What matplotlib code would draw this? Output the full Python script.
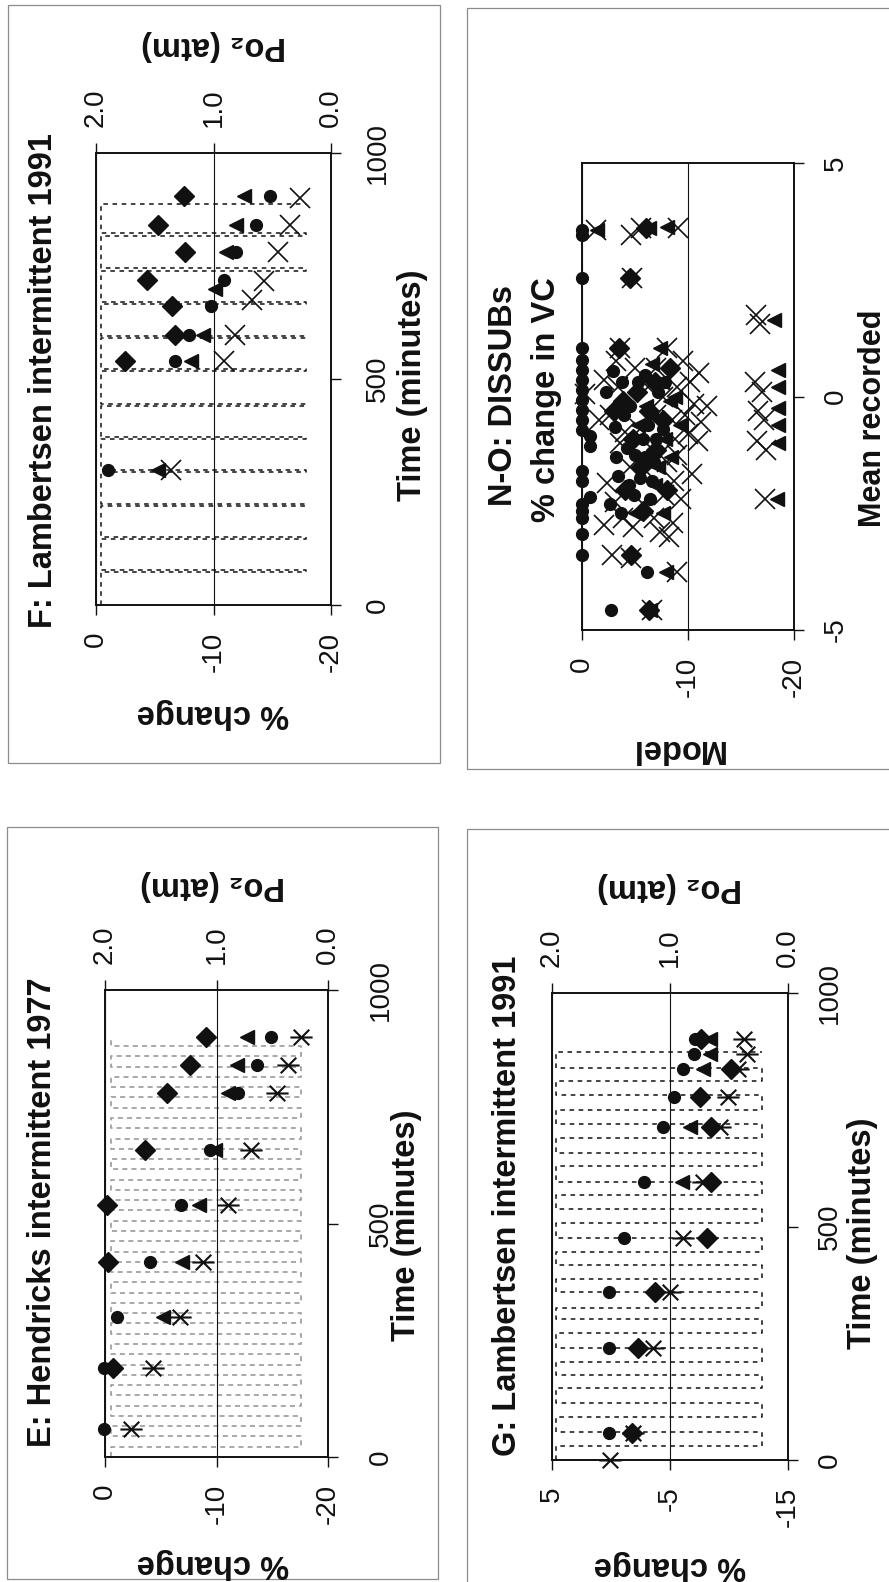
import matplotlib
matplotlib.use('Agg')
import matplotlib.pyplot as plt
from matplotlib.patches import Rectangle
from matplotlib.path import Path
from matplotlib.ticker import FormatStrFormatter

plt.rcParams['font.family'] = ['Liberation Sans', 'DejaVu Sans']
plt.rcParams['axes.unicode_minus'] = False

W, H = 889, 1582

# ---------------- data (x = % change, y = time in minutes) ----------------
# E: Hendricks intermittent 1977
e_diamond_t = [190, 417, 540, 658, 779, 839, 900]
e_diamond = [-0.75, -0.3, -0.15, -3.6, -5.6, -7.6, -9.1]
e_circle_t = [59, 190, 300, 417, 540, 658, 779, 839, 900]
e_circle = [0.1, 0.1, -1.1, -4.0, -6.8, -9.4, -11.9, -13.6, -14.9]
e_tri_t = [300, 417, 540, 658, 779, 839, 900]
e_tri = [-5.2, -6.9, -8.4, -9.9, -11.0, -11.8, -12.7]
e_star_t = [59, 190, 300, 417, 540, 658, 779, 839, 900]
e_star = [-2.3, -4.3, -6.7, -8.8, -11.0, -13.1, -15.4, -16.4, -17.6]
e_po2_switch = [22, 44, 66, 88, 110, 132, 154, 176, 198, 220, 242, 264, 286, 308,
                330, 352, 374, 396, 418, 440, 462, 484, 506, 528, 550, 572, 594,
                616, 638, 660, 682, 704, 726, 748, 770, 792, 814, 836, 858, 880]
e_po2_high, e_po2_low, e_po2_end = 1.95, 0.24, 895

# F: Lambertsen intermittent 1991
f_diamond_t = [904, 841, 782, 720, 661, 598, 540]
f_diamond = [-7.5, -5.3, -7.6, -4.3, -6.5, -6.7, -2.5]
f_circle_t = [904, 841, 782, 720, 661, 598, 540, 299]
f_circle = [-14.8, -13.6, -11.9, -10.9, -9.8, -7.9, -6.7, -1.0]
f_tri_t = [904, 841, 782, 700, 598, 540, 299]
f_tri = [-12.6, -11.9, -11.1, -10.1, -9.1, -8.1, -5.3]
f_x_t = [900, 841, 782, 716, 675, 598, 540, 299]
f_x = [-17.4, -16.5, -15.5, -14.3, -13.3, -11.8, -10.9, -6.4]
f_po2_breaks = [72, 145, 218, 294, 367, 440, 517, 590, 666, 740, 817]
f_break_len = 5
f_po2_high, f_po2_low, f_po2_end = 1.96, 0.21, 887

# G: Lambertsen intermittent 1991
g_circle_t = [57, 239, 359, 476, 596, 714, 778, 837, 869, 902]
g_circle = [0.2, 0.2, 0.2, -1.1, -2.8, -4.4, -5.3, -6.1, -7.0, -7.1]
g_tri_t = [596, 714, 837, 869, 902]
g_tri = [-6.0, -6.7, -7.8, -8.4, -8.4]
g_diamond_t = [57, 239, 359, 476, 596, 714, 778, 837, 902]
g_diamond = [-1.8, -2.3, -3.7, -8.1, -8.5, -8.5, -7.5, -10.2, -7.6]
g_star_t = [0, 57, 239, 359, 476, 596, 714, 778, 837, 869, 902]
g_star = [0.1, -1.9, -3.6, -5.0, -6.1, -7.8, -9.2, -9.9, -10.8, -11.5, -11.3]
g_po2_switch = [31, 60, 93, 122, 155, 181, 210, 239, 272, 301, 326, 359, 388, 417,
                446, 476, 508, 538, 567, 596, 629, 658, 690, 720, 749, 781, 811, 840, 874]
g_po2_high, g_po2_low, g_po2_end = 1.97, 0.22, 874

# N-O: DISSUBs, model % change vs mean recorded
no_circle_model = [0, 0, 0, 0, 0, 0, 0, 0, 0, 0, 0, 0, -0.8, -0.8, 0, 0, -0.8, 0, 0, 0,
                   0, 0, -2.7, -6.1, -2.9, -3.8, -4.5, -3.1, -4.2, -5.0, -5.8, -6.6,
                   -7.2, -6.8, -3.4, -5.5, -4.9, -2.6, -3.7, -6.4, -5.9, -7.6,
                   -5.3, -6.2, -4.0, -7.0, -5.9, -4.4, -6.6, -3.2, -7.8, -2.3]
no_circle_mean = [3.57, 3.45, 2.54, 1.04, 0.78, 0.57, 0.36, 0.14, -0.07, -0.28, -0.5,
                  -0.71, -0.85, -1.05, -1.6, -1.8, -2.15, -2.3, -2.45, -2.6, -2.95,
                  -3.4, -4.57, -3.75, 0.55, 0.3, -0.2, -0.65, -1.1, -1.25, -0.9, -0.35,
                  0.1, -1.4, -1.7, -1.75, -2.1, -2.3, -2.5, -2.2, 0.45, -0.7,
                  0.3, -0.6, -0.4, -0.9, -1.3, -1.9, -1.8, -1.3, 0.3, 0.1]
no_tri_model = [-1.4, -6.3, -8.0, -7.4, -18.1, -18.5, -18.5, -18.5, -18.5, -18.5, -18.4,
                -7.9, -6.4, -7.5, -8.3, -7.8, -6.9, -7.6, -5.3, -6.6,
                -8.8, -9.2, -6.0, -8.4, -5.0, -7.2]
no_tri_mean = [3.57, 3.6, 3.63, 1.04, 1.64, 0.57, 0.2, -0.25, -0.6, -1.0, -2.2,
               -3.75, -4.57, 0.3, -0.1, -0.9, -1.9, -2.5, -0.6, 0.7,
               0.0, -0.6, -0.2, -1.3, -2.5, -1.5]
no_diamond_model = [-6.0, -4.5, -3.5, -4.6, -6.3, -5.2, -6.3, -7.0, -4.1, -5.8, -8.3, -3.0,
                    -7.6, -4.8, -6.9, -5.6, -8.0, -3.9]
no_diamond_mean = [3.6, 2.54, 1.04, -3.4, -4.57, 0.1, -0.3, -1.15, -2.0, -2.45, 0.6, -0.3,
                   -0.5, -0.9, 0.3, -1.5, -2.0, -0.1]
no_x_model = [-1.3, -4.6, -5.6, -9.1, -4.7, -16.4, -16.8, -3.6, -8.0, -0.3, -2.1, -3.2,
              -2.6, -4.1, -9.5, -10.2, -10.6, -11.2, -10.9, -9.7, -9.0, -10.4, -8.7,
              -9.3, -7.7, -8.6, -7.4, -16.3, -17.0, -16.6, -17.2, -16.5, -17.4, -17.3,
              -2.4, -3.1, -2.1, -3.9, -2.8, -4.6, -9.0, -6.6, -7.6, -8.5, -6.0,
              -5.0, -6.2, -7.0, -5.5, -6.5, -8.0, -4.5, -3.6, -11.8, -11.0, -10.0,
              -9.0, -8.8, -7.0, -5.8, -6.8, -4.8, -3.4, -1.6, -8.2]
no_x_mean = [3.57, 3.45, 3.6, 3.6, 2.54, 1.75, 1.55, 1.04, 1.04, 0.05, 0.35, 0.75,
             -0.4, -0.75, 0.75, 0.3, -0.15, -0.55, -0.95, -0.4, -1.25, -1.65, -1.8,
             -2.2, -2.1, -2.7, -2.9, 0.3, 0.1, -0.3, -0.5, -0.95, -1.15, -2.2,
             -1.85, -2.25, -2.75, -2.6, -3.4, -3.45, -3.75, -4.57, 0.0, -0.5, -1.6,
             0.6, 0.2, -0.4, -0.7, -1.1, -1.4, -1.5, -1.0, -0.2, 0.5, -0.8,
             0.2, -0.9, 0.6, -2.3, -2.6, -2.8, 0.2, -0.5, -3.0]

# ---------------- styling ----------------
INK = '#111111'
star_path = Path([(-1, 0), (1, 0), (-0.7, -0.7), (0.7, 0.7), (-0.7, 0.7), (0.7, -0.7)],
                 [Path.MOVETO, Path.LINETO] * 3)
MARKERS = {
    'diamond': dict(marker='D', ms=10.5),
    'circle': dict(marker='o', ms=8.5),
    'tri': dict(marker='<', ms=9.5),
    'x': dict(marker='x', ms=14, mew=1.2),
    'star': dict(marker=star_path, ms=16, mew=1.5),
}
TICK_FS = 20
LAB_FS = 23.5

fig = plt.figure(figsize=(W / 100, H / 100), dpi=100)


def fig_xy(x, y):
    return x / W, 1 - y / H


def border(x0, y0, x1, y1):
    fig.add_artist(Rectangle((x0 / W, 1 - y1 / H), (x1 - x0) / W, (y1 - y0) / H,
                             transform=fig.transFigure, fill=False,
                             ec='#8c8c8c', lw=0.9))


def label(x, y, s, rot, size=LAB_FS, bold=True):
    fx, fy = fig_xy(x, y)
    fig.text(fx, fy, s, rotation=rot, ha='center', va='center', fontsize=size,
             fontweight='bold' if bold else 'normal', color=INK)


def panel(b, xlim, xticks, ylim, yticks, right_pad):
    x0, y0, x1, y1 = b
    ax = fig.add_axes([x0 / W, 1 - y1 / H, (x1 - x0) / W, (y1 - y0) / H])
    ax.set_xlim(*xlim)
    ax.set_xticks(xticks)
    ax.set_ylim(*ylim)
    ax.set_yticks(yticks)
    ax.xaxis.tick_bottom()
    ax.yaxis.tick_right()
    ax.tick_params(direction='out', length=7, width=1, labelsize=TICK_FS,
                   colors=INK, labelrotation=90)
    ax.tick_params(axis='x', pad=12)
    ax.tick_params(axis='y', pad=right_pad)
    for lab in ax.get_yticklabels():
        lab.set_va('center')
    ax.grid(axis='x', color=INK, lw=0.8)
    for s in ax.spines.values():
        s.set_linewidth(1.4)
        s.set_color(INK)
    return ax


def po2_axis(ax):
    ax2 = ax.twiny()
    ax2.set_xlim(2.0, 0.0)
    ax2.set_xticks([2.0, 1.0, 0.0])
    ax2.xaxis.set_major_formatter(FormatStrFormatter('%.1f'))
    ax2.tick_params(direction='out', length=7, width=1, labelsize=TICK_FS,
                    colors=INK, labelrotation=90, pad=12)
    for s in ax2.spines.values():
        s.set_visible(False)
    ax.set_zorder(ax2.get_zorder() + 1)
    ax.patch.set_visible(False)
    return ax2


def square_wave(switch, high, low, t_end):
    xs, ys, cur = [high], [0], high
    for t in switch:
        xs.append(cur)
        ys.append(t)
        cur = low if cur == high else high
        xs.append(cur)
        ys.append(t)
    xs.append(cur)
    ys.append(t_end)
    return xs, ys


def spike_wave(breaks, dur, high, low, t_end):
    xs, ys = [high], [0]
    for t in breaks:
        xs += [high, low, low, high]
        ys += [t, t, t + dur, t + dur]
    xs += [high, low]
    ys += [t_end, t_end]
    return xs, ys


def scatter(ax, xs, ys, kind):
    ax.plot(xs, ys, ls='none', color=INK, mec=INK, clip_on=False, **MARKERS[kind])


# ---------------- F (top left) ----------------
border(8, 5, 440, 763)
ax = panel((96, 153, 331, 605), (0, -20), [0, -10, -20], (0, 1000), [0, 500, 1000], 17.5)
ax2 = po2_axis(ax)
px_, py_ = spike_wave(f_po2_breaks, f_break_len, f_po2_high, f_po2_low, f_po2_end)
ax2.plot(px_, py_, color=INK, lw=1.1, ls=(0, (3, 3)))
scatter(ax, f_diamond, f_diamond_t, 'diamond')
scatter(ax, f_circle, f_circle_t, 'circle')
scatter(ax, f_tri, f_tri_t, 'tri')
scatter(ax, f_x, f_x_t, 'x')
label(44, 381, 'F: Lambertsen intermittent 1991', 90)
label(413, 385, 'Time (minutes)', 90)
label(214, 45, 'Po\u2082 (atm)', 180)
label(213, 714, '% change', 180)

# ---------------- N-O (top right) ----------------
border(467, 8, 900, 769)
ax = panel((582, 163, 794, 630), (0, -20), [0, -10, -20], (-5, 5), [-5, 0, 5], 14)
scatter(ax, no_circle_model, no_circle_mean, 'circle')
scatter(ax, no_tri_model, no_tri_mean, 'tri')
scatter(ax, no_diamond_model, no_diamond_mean, 'diamond')
scatter(ax, no_x_model, no_x_mean, 'x')
label(504, 396, 'N-O: DISSUBs', 90)
label(547, 400, '% change in VC', 90)
label(873, 418, 'Mean recorded', 90, size=22)
label(677, 749, 'Model', 180)

# ---------------- E (bottom left) ----------------
border(7, 827, 438, 1579)
ax = panel((105, 990, 328, 1457), (0, -20), [0, -10, -20], (0, 1000), [0, 500, 1000], 22)
ax2 = po2_axis(ax)
px_, py_ = square_wave(e_po2_switch, e_po2_high, e_po2_low, e_po2_end)
ax2.plot(px_, py_, color='#9a9a9a', lw=1.2, ls=(0, (3, 2.5)))
scatter(ax, e_diamond, e_diamond_t, 'diamond')
scatter(ax, e_circle, e_circle_t, 'circle')
scatter(ax, e_tri, e_tri_t, 'tri')
scatter(ax, e_star, e_star_t, 'star')
label(43, 1212, 'E: Hendricks intermittent 1977', 90)
label(407, 1225, 'Time (minutes)', 90)
label(213, 885, 'Po\u2082 (atm)', 180)
label(213, 1563, '% change', 180)

# ---------------- G (bottom right) ----------------
border(467, 829, 900, 1590)
ax = panel((552, 993, 788, 1460), (5, -15), [5, -5, -15], (0, 1000), [0, 500, 1000], 14)
ax2 = po2_axis(ax)
px_, py_ = square_wave(g_po2_switch, g_po2_high, g_po2_low, g_po2_end)
ax2.plot(px_, py_, color=INK, lw=1.1, ls=(0, (3, 3)))
scatter(ax, g_circle, g_circle_t, 'circle')
scatter(ax, g_tri, g_tri_t, 'tri')
scatter(ax, g_diamond, g_diamond_t, 'diamond')
scatter(ax, g_star, g_star_t, 'star')
label(507, 1206, 'G: Lambertsen intermittent 1991', 90)
label(863, 1233, 'Time (minutes)', 90)
label(670, 887, 'Po\u2082 (atm)', 180)
label(670, 1565, '% change', 180)

fig.savefig('out.png', dpi=100)
